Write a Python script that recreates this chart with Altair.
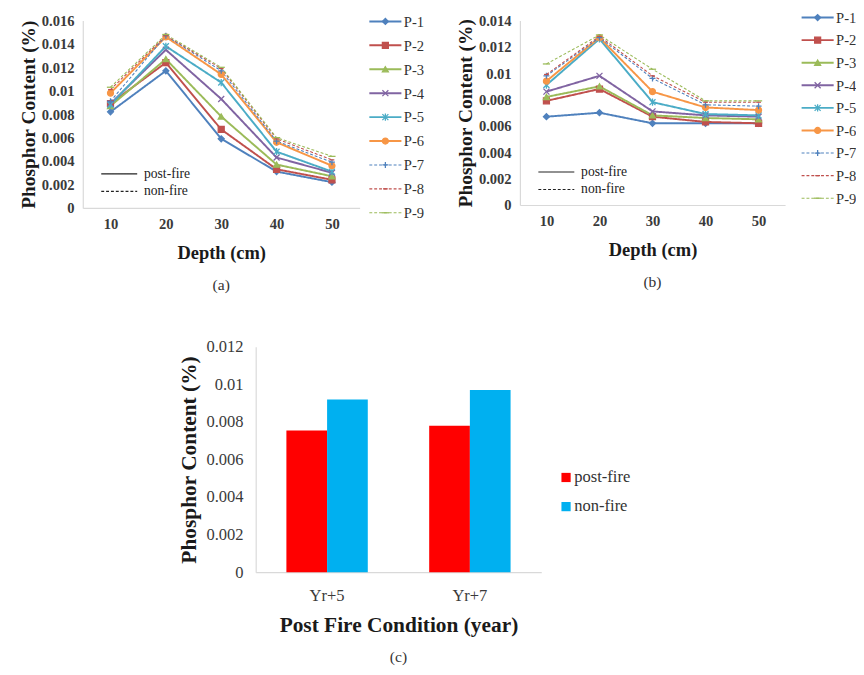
import altair as alt
import pandas as pd

FONT = "Liberation Serif"

depths = [10, 20, 30, 40, 50]
series = ["P-1", "P-2", "P-3", "P-4", "P-5", "P-6", "P-7", "P-8", "P-9"]
series_condition = ["post-fire"] * 6 + ["non-fire"] * 3
series_colors = ["#4F81BD", "#C0504D", "#9BBB59", "#8064A2", "#4BACC6",
                 "#F79646", "#4F81BD", "#C0504D", "#9BBB59"]
series_shapes = ["diamond", "square", "triangle-up",
                 "M-1,-1L1,1M-1,1L1,-1",
                 "M-1,-1L1,1M-1,1L1,-1M0,-1.2L0,1.2",
                 "circle",
                 "M-1,0L1,0M0,-1L0,1",
                 "M-0.8,0L0.8,0",
                 "M-1.2,0L1.2,0"]

# panel (a): values per series at depths 10..50
panel_a = [
    [0.0082, 0.0117, 0.0059, 0.0031, 0.0022],
    [0.0089, 0.0124, 0.0067, 0.0033, 0.0024],
    [0.0087, 0.0127, 0.0078, 0.0037, 0.0027],
    [0.0089, 0.0135, 0.0093, 0.0043, 0.0030],
    [0.0088, 0.0138, 0.0107, 0.0048, 0.0031],
    [0.0098, 0.0146, 0.0114, 0.0056, 0.0036],
    [0.0091, 0.0147, 0.0117, 0.0057, 0.0039],
    [0.0101, 0.0147, 0.0119, 0.0059, 0.0041],
    [0.0103, 0.0148, 0.0120, 0.0060, 0.0044],
]
# panel (b)
panel_b = [
    [0.0067, 0.0070, 0.0062, 0.0062, 0.0062],
    [0.0079, 0.0088, 0.0067, 0.0063, 0.0062],
    [0.0082, 0.0090, 0.0068, 0.0066, 0.0065],
    [0.0086, 0.0098, 0.0071, 0.0068, 0.0067],
    [0.0091, 0.0126, 0.0078, 0.0069, 0.0068],
    [0.0094, 0.0127, 0.0086, 0.0074, 0.0072],
    [0.0098, 0.0127, 0.0096, 0.0076, 0.0075],
    [0.0099, 0.0128, 0.0098, 0.0078, 0.0078],
    [0.0107, 0.0129, 0.0103, 0.0079, 0.0079],
]
a_ticks = [0, 0.002, 0.004, 0.006, 0.008, 0.01, 0.012, 0.014, 0.016]
b_ticks = [0, 0.002, 0.004, 0.006, 0.008, 0.01, 0.012, 0.014]

# panel (c)
years = ["Yr+5", "Yr+7"]
post_fire = [0.00755, 0.0078]
non_fire = [0.0092, 0.0097]
c_ticks = [0, 0.002, 0.004, 0.006, 0.008, 0.01, 0.012]
cond_names = ["post-fire", "non-fire"]
bar_colors = ["#FF0000", "#00B0F0"]

RES = dict(color="independent", stroke="independent", shape="independent",
           strokeDash="independent", strokeWidth="independent")

color_scale = alt.Scale(domain=series, range=series_colors)
shape_scale = alt.Scale(domain=series, range=series_shapes)
dash_scale = alt.Scale(domain=cond_names, range=[[1, 0], [3, 2]])
line_width = alt.condition(alt.datum.condition == "post-fire", alt.value(2), alt.value(1.1))


def line_panel(values, ticks, width, height, caption, leg_y):
    rows = []
    for s, cond, vals in zip(series, series_condition, values):
        for d, v in zip(depths, vals):
            rows.append({"series": s, "condition": cond, "depth": d, "value": v})
    df = pd.DataFrame(rows)
    x = alt.X("depth:O", scale=alt.Scale(type="point", padding=0.5),
              axis=alt.Axis(title="Depth (cm)", labelAngle=0, labelFontWeight="bold",
                            labelFontSize=15, titleFontSize=19, titlePadding=13,
                            labelPadding=9))
    y = alt.Y("value:Q", scale=alt.Scale(domain=[ticks[0], ticks[-1]], nice=False),
              axis=alt.Axis(title="Phosphor Content (%)", values=ticks, format="~g",
                            labelFontWeight="bold", labelFontSize=15, titleFontSize=20,
                            titlePadding=3, labelPadding=9))
    lines = alt.Chart(df).mark_line().encode(
        x=x, y=y,
        color=alt.Color("series:N", scale=color_scale, legend=None),
        strokeDash=alt.StrokeDash(
            "condition:N", scale=dash_scale,
            legend=alt.Legend(title=None, orient="none", legendX=18, legendY=leg_y,
                              symbolType="stroke", symbolSize=1369, clipHeight=16,
                              symbolStrokeColor="#222", symbolStrokeWidth=1.2,
                              labelFontSize=14, rowPadding=2, labelOffset=6,
                              labelColor="#222", labelFont=FONT)),
        strokeWidth=line_width,
    )
    points = alt.Chart(df).mark_point(filled=True, size=38, strokeWidth=1.3, opacity=1).encode(
        x=x, y=y,
        color=alt.Color("series:N", scale=color_scale, legend=None),
        stroke=alt.Stroke("series:N", scale=color_scale, legend=None),
        shape=alt.Shape("series:N", scale=shape_scale, legend=None),
    )
    return alt.layer(lines, points).properties(
        width=width, height=height,
        title=alt.TitleParams(caption, orient="bottom", fontSize=16, fontWeight="normal",
                              font=FONT, color="#333", offset=15),
    )


def series_legend(height, r0, r1):
    df = pd.DataFrame({"series": series, "condition": series_condition})
    y = alt.Y("series:N", sort=series,
              scale=alt.Scale(type="point", domain=series, range=[r0, r1], padding=0),
              axis=alt.Axis(orient="right", domain=False, ticks=False, title=None,
                            labelFontSize=15, labelPadding=2, labelColor="#333"))
    xsc = alt.Scale(domain=[0, 1])
    rule = alt.Chart(df).mark_rule().encode(
        y=y,
        x=alt.XDatum(0, scale=xsc, axis=None),
        x2=alt.X2Datum(1),
        color=alt.Color("series:N", scale=color_scale, legend=None),
        strokeDash=alt.StrokeDash("condition:N", scale=dash_scale, legend=None),
        strokeWidth=line_width,
    )
    pts = alt.Chart(df).mark_point(filled=True, size=38, strokeWidth=1.3, opacity=1).encode(
        y=y,
        x=alt.XDatum(0.5, scale=xsc, axis=None),
        color=alt.Color("series:N", scale=color_scale, legend=None),
        stroke=alt.Stroke("series:N", scale=color_scale, legend=None),
        shape=alt.Shape("series:N", scale=shape_scale, legend=None),
    )
    return alt.layer(rule, pts).properties(width=33, height=height)


chart_a = line_panel(panel_a, a_ticks, 285, 193, "(a)", 150)
leg_a = series_legend(193, 1, 198)
chart_b = line_panel(panel_b, b_ticks, 273, 190, "(b)", 148)
leg_b = series_legend(190, -3, 183)

rows_c = []
for yr, p, n in zip(years, post_fire, non_fire):
    rows_c.append({"year": yr, "condition": "post-fire", "value": p})
    rows_c.append({"year": yr, "condition": "non-fire", "value": n})
df_c = pd.DataFrame(rows_c)

chart_c = alt.Chart(df_c).mark_bar().encode(
    x=alt.X("year:N", sort=years, scale=alt.Scale(paddingInner=0.43, paddingOuter=0.215),
            axis=alt.Axis(title="Post Fire Condition (year)", labelAngle=0, labelFontSize=17,
                          titleFontSize=22, labelPadding=16, titlePadding=12)),
    xOffset=alt.XOffset("condition:N", sort=cond_names,
                        scale=alt.Scale(domain=cond_names, paddingInner=0, paddingOuter=0)),
    y=alt.Y("value:Q", scale=alt.Scale(domain=[0, 0.012], nice=False),
            axis=alt.Axis(title="Phosphor Content (%)", values=c_ticks, format="~g",
                          labelFontSize=17, titleFontSize=22, titlePadding=6, labelPadding=13)),
    color=alt.Color("condition:N", sort=cond_names,
                    scale=alt.Scale(domain=cond_names, range=bar_colors),
                    legend=alt.Legend(title=None, orient="none", legendX=311, legendY=126,
                                      symbolType="square", symbolSize=90,
                                      labelFontSize=17, rowPadding=12, labelOffset=0,
                                      labelColor="#333")),
).properties(
    width=294, height=232,
    title=alt.TitleParams("(c)", orient="bottom", fontSize=16, fontWeight="normal",
                          font=FONT, color="#333", offset=14),
)

spacer = alt.Chart(pd.DataFrame({"v": [0]})).mark_point(opacity=0).encode(
    x=alt.value(0), y=alt.value(0)).properties(width=97, height=10)

top = alt.hconcat(
    alt.hconcat(chart_a, leg_a, spacing=9).resolve_scale(**RES),
    alt.hconcat(chart_b, leg_b, spacing=16).resolve_scale(**RES),
    spacing=33,
).resolve_scale(**RES)
bottom = alt.hconcat(spacer, chart_c, spacing=0).resolve_scale(**RES)

chart = alt.vconcat(top, bottom, spacing=47).resolve_scale(**RES).properties(
    padding={"left": 11, "top": -7, "right": 0, "bottom": 0},
    background="white",
).configure_view(stroke=None).configure_axis(
    grid=False, ticks=False, domainColor="#D9D9D9", domainWidth=1.2,
    labelFont=FONT, titleFont=FONT, labelColor="#3a3a3a", titleColor="#1a1a1a",
    titleFontWeight="bold",
).configure_legend(labelFont=FONT)

chart.save("out.html", embed_options={"renderer": "svg", "actions": False})
